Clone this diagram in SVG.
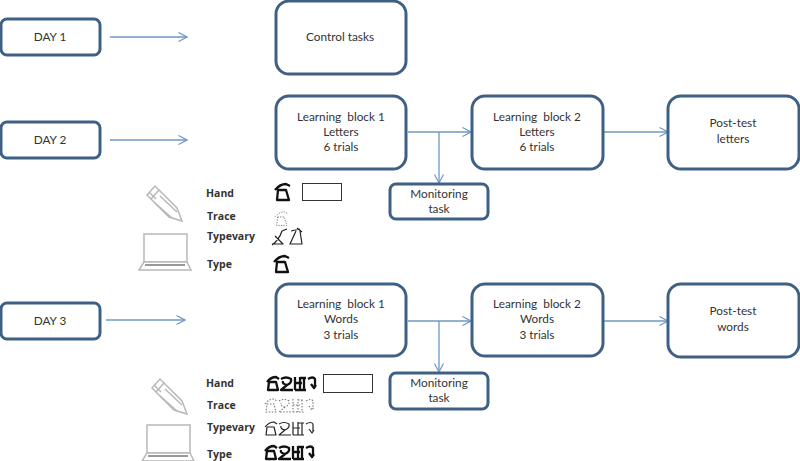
<svg xmlns="http://www.w3.org/2000/svg" xmlns:xlink="http://www.w3.org/1999/xlink" width="800" height="461" viewBox="0 0 800 461">
<style>
text{font-family:"Lato","Open Sans","Liberation Sans",sans-serif;font-size:11.800px;fill:#333;text-anchor:middle}
.n{fill:#fff;stroke:#3f6085;stroke-width:3}
.c{fill:none;stroke:#6f98c4;stroke-width:1.3}
text.l{font-family:"Open Sans","Liberation Sans",sans-serif;font-size:10.500px;font-weight:700;fill:#333;text-anchor:start}
.g{fill:none;stroke:#111;stroke-width:2.300;stroke-linejoin:round}
.gt{fill:none;stroke:#222;stroke-width:1.200;stroke-linejoin:round}
.gd{fill:none;stroke:#777;stroke-width:1.100;stroke-dasharray:1.500 1.500}
.i{fill:#fff;stroke:#b8b8b8;stroke-width:1.500}
.b{fill:#fff;stroke:#333;stroke-width:1}
</style>
<defs>
<marker id="a" viewBox="0 0 10 10" refX="9.500" refY="5" markerWidth="10" markerHeight="10" markerUnits="userSpaceOnUse" orient="auto"><path d="M1 .5L9.500 5L1 9.500" fill="none" stroke="#6f98c4" stroke-width="1.200"/></marker>
<path id="let" d="M0 7Q5 1 11 1L15 3M3 7H11L14 17H2L3 7Z"/>
<path id="word" d="M1 6Q5 1 10 1L13 3M3 6H10L12 14H2L3 6ZM15 3Q20 0 25 3Q26 7 21 9Q16 8 17 5M21 9L15 14H27M29 1V14M29 7H36M34 1V14M29 14H40M34 2H40M38 2V14M42 3Q47 0 49 3V10M45 8L48 12L50 9"/>
<g id="pencil"><path class="i" d="M1 10L9 1L31 23L36 36L23 32Z"/><path class="i" d="M5 14L13 5M9 18L26 33M14 11L31 27M3.500 7.500L10 14"/></g>
<g id="laptop"><path class="i" d="M5 1H48V29H5Z"/><path class="i" d="M5 29L0 37H52L48 29Z"/><path d="M6 32H46" stroke="#999" stroke-width="2"/></g>
</defs>
<g id="connectors">
<path class="c" marker-end="url(#a)" d="M110 37H187"/>
<path class="c" marker-end="url(#a)" d="M110 140H187"/>
<path class="c" marker-end="url(#a)" d="M106 320H185"/>
<path class="c" marker-end="url(#a)" d="M408 132H471"/>
<path class="c" marker-end="url(#a)" d="M439 132V183"/>
<path class="c" marker-end="url(#a)" d="M604 132H668"/>
<path class="c" marker-end="url(#a)" d="M408 321H471"/>
<path class="c" marker-end="url(#a)" d="M439 321V372"/>
<path class="c" marker-end="url(#a)" d="M604 321H668"/>
</g>
<g id="day1"><rect class="n" x="1" y="19" width="99" height="36" rx="6"/><text x="50" y="41">DAY 1</text></g>
<g id="day2"><rect class="n" x="1" y="122" width="99" height="36" rx="6"/><text x="50" y="144">DAY 2</text></g>
<g id="day3"><rect class="n" x="1" y="303" width="99" height="36" rx="6"/><text x="50" y="325">DAY 3</text></g>
<g id="control"><rect class="n" x="276" y="1" width="130" height="73" rx="13"/><text x="340" y="41">Control tasks</text></g>
<g id="lb1-letters"><rect class="n" x="276" y="96" width="130" height="73" rx="13"/><text x="341" y="121" xml:space="preserve">Learning  block 1</text><text x="341" y="136">Letters</text><text x="341" y="151">6 trials</text></g>
<g id="lb2-letters"><rect class="n" x="472" y="96" width="131" height="73" rx="13"/><text x="537" y="121" xml:space="preserve">Learning  block 2</text><text x="537" y="136">Letters</text><text x="537" y="151">6 trials</text></g>
<g id="post-letters"><rect class="n" x="668" y="96" width="131" height="73" rx="13"/><text x="733" y="127">Post-test</text><text x="733" y="143">letters</text></g>
<g id="monitor1"><rect class="n" x="390" y="184" width="98" height="35" rx="6"/><text x="439" y="198">Monitoring</text><text x="439" y="213">task</text></g>
<g id="lb1-words"><rect class="n" x="276" y="284" width="130" height="72" rx="13"/><text x="341" y="308" xml:space="preserve">Learning  block 1</text><text x="341" y="323">Words</text><text x="341" y="339">3 trials</text></g>
<g id="lb2-words"><rect class="n" x="472" y="284" width="131" height="72" rx="13"/><text x="537" y="308" xml:space="preserve">Learning  block 2</text><text x="537" y="323">Words</text><text x="537" y="339">3 trials</text></g>
<g id="post-words"><rect class="n" x="668" y="284" width="131" height="73" rx="13"/><text x="733" y="315">Post-test</text><text x="733" y="331">words</text></g>
<g id="monitor2"><rect class="n" x="390" y="373" width="98" height="36" rx="6"/><text x="439" y="387">Monitoring</text><text x="439" y="402">task</text></g>
<g id="legend-letters">
<use xlink:href="#pencil" href="#pencil" x="146" y="185"/>
<use xlink:href="#laptop" href="#laptop" x="139" y="233"/>
<text class="l" x="206" y="197">Hand</text><text class="l" x="207" y="220">Trace</text><text class="l" x="207" y="240">Typevary</text><text class="l" x="207" y="268">Type</text>
<use xlink:href="#let" href="#let" class="g" x="275" y="183"/>
<rect class="b" x="302.500" y="183.500" width="39" height="17"/>
<use xlink:href="#let" href="#let" class="gd" transform="translate(275 211) scale(.85)"/>
<path class="gt" d="M272 245Q279 240 282 231L287 229M275 236L283 244H272M297 228L302 232M300 229L291 231M296 231L290 244H302L300 231"/>
<use xlink:href="#let" href="#let" class="g" x="274" y="255"/>
</g>
<g id="legend-words">
<use xlink:href="#pencil" href="#pencil" x="151" y="378"/>
<use xlink:href="#laptop" href="#laptop" x="142" y="424"/>
<text class="l" x="206" y="387">Hand</text><text class="l" x="207" y="409">Trace</text><text class="l" x="207" y="431">Typevary</text><text class="l" x="207" y="458">Type</text>
<use xlink:href="#word" href="#word" class="g" x="266" y="376"/>
<rect class="b" x="323.500" y="374.500" width="49" height="18"/>
<use xlink:href="#word" href="#word" class="gd" x="264" y="398"/>
<use xlink:href="#word" href="#word" class="gt" x="264" y="421"/>
<use xlink:href="#word" href="#word" class="g" x="264" y="445"/>
</g>
</svg>
